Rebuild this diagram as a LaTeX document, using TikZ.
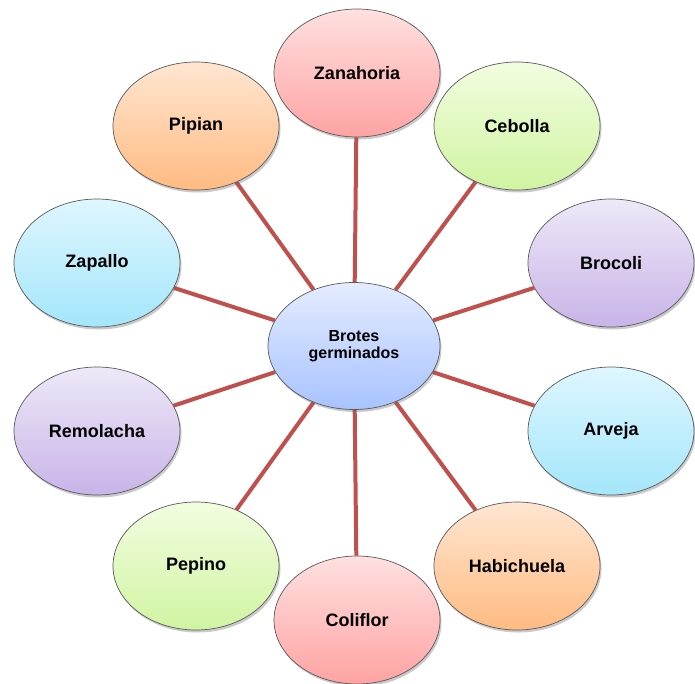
\documentclass[tikz,border=0pt]{standalone}
\usepackage{fontspec}
\setmainfont{Liberation Sans}
\usetikzlibrary{shapes.geometric,shadows,backgrounds}
\definecolor{pinkT}{HTML}{FFE0E0}\definecolor{pinkB}{HTML}{FFA3A3}
\definecolor{greenT}{HTML}{F2FDE0}\definecolor{greenB}{HTML}{D0F4A2}
\definecolor{lavT}{HTML}{EEE8F8}\definecolor{lavB}{HTML}{C8B4E8}
\definecolor{cyanT}{HTML}{DEF6FF}\definecolor{cyanB}{HTML}{A4E6FA}
\definecolor{orT}{HTML}{FFE6D2}\definecolor{orB}{HTML}{FFBB82}
\definecolor{blueT}{HTML}{E4ECFF}\definecolor{blueB}{HTML}{A8C3FF}
\definecolor{linkred}{HTML}{C0504D}
\tikzset{
  bubble/.style={ellipse, draw=black!65, line width=0.7pt, minimum width=166pt, minimum height=128pt, inner sep=0pt,
    font=\fontsize{18}{20}\selectfont\bfseries,
    drop shadow={shadow xshift=1.5pt, shadow yshift=-2.5pt, opacity=0.35, fill=black!60}},
  pinkb/.style={bubble, top color=pinkT, bottom color=pinkB},
  greenb/.style={bubble, top color=greenT, bottom color=greenB},
  lavb/.style={bubble, top color=lavT, bottom color=lavB},
  cyanb/.style={bubble, top color=cyanT, bottom color=cyanB},
  orb/.style={bubble, top color=orT, bottom color=orB},
  hub/.style={bubble, top color=blueT, bottom color=blueB, minimum width=172pt, minimum height=127pt, align=center,
    font=\fontsize{16}{17}\selectfont\bfseries},
  link/.style={draw=linkred, line width=4pt}
}
\begin{document}
\begin{tikzpicture}[x=1pt,y=-1pt]
\useasboundingbox (0,0) rectangle (695,683);
\node[hub] (c) at (354,346) {Brotes\\germinados};
\node[pinkb] (zan) at (357,73) {Zanahoria};
\node[greenb] (ceb) at (517,126) {Cebolla};
\node[lavb] (bro) at (611,263) {Brocoli};
\node[cyanb] (arv) at (611,431) {Arveja};
\node[orb] (hab) at (517,566) {Habichuela};
\node[pinkb] (col) at (357,620) {Coliflor};
\node[greenb] (pep) at (196,566) {Pepino};
\node[lavb] (rem) at (97,431) {Remolacha};
\node[cyanb] (zap) at (97,263) {Zapallo};
\node[orb] (pip) at (196,126) {Pipian};
\begin{pgfonlayer}{background}
\foreach \n in {zan,ceb,bro,arv,hab,col,pep,rem,zap,pip}
  \draw[link] (c) -- (\n);
\end{pgfonlayer}
\end{tikzpicture}
\end{document}
